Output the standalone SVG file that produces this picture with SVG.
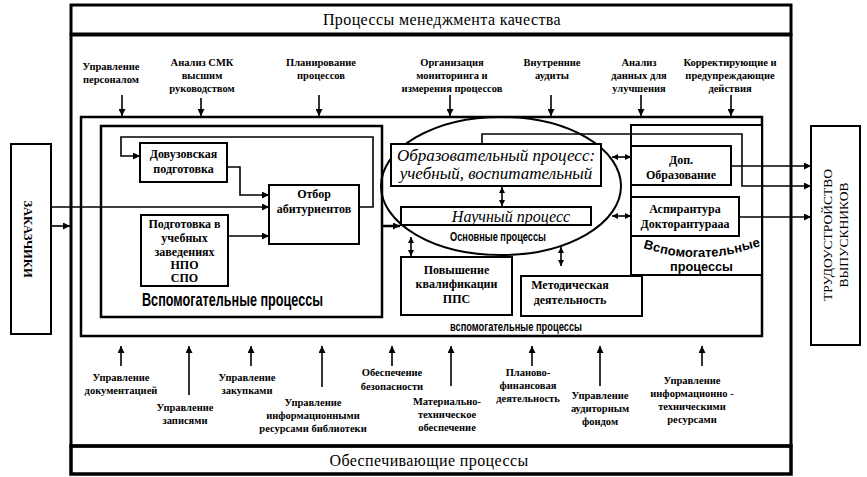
<svg xmlns="http://www.w3.org/2000/svg" width="867" height="477" viewBox="0 0 867 477">
<style>
  .frame{fill:none;stroke:#000;stroke-width:3}
  .box{fill:#fff;stroke:#000;stroke-width:2}
  .ln{fill:none;stroke:#000;stroke-width:1.6}
  .lbl{font-family:"Liberation Serif","Times New Roman",serif;font-weight:bold;font-size:10.5px;text-anchor:middle;fill:#000}
  .bt{font-family:"Liberation Serif","Times New Roman",serif;font-weight:bold;font-size:12px;text-anchor:middle;fill:#000}
  .it{font-family:"Liberation Serif","Times New Roman",serif;font-style:italic;font-size:17px;text-anchor:middle;fill:#000}
  .ttl{font-family:"Liberation Serif","Times New Roman",serif;font-size:16px;text-anchor:middle;fill:#000;letter-spacing:0.4px}
  .wa{font-family:"Liberation Sans",Arial,sans-serif;font-weight:bold;fill:#000}
</style>
<defs>
  <marker id="ah" viewBox="0 0 10 10" refX="10" refY="5" markerWidth="8" markerHeight="7" markerUnits="userSpaceOnUse" orient="auto-start-reverse">
    <path d="M0,0 L10,5 L0,10 z" fill="#000"/>
  </marker>
  <marker id="ahs" viewBox="0 0 10 10" refX="10" refY="5" markerWidth="7" markerHeight="6" markerUnits="userSpaceOnUse" orient="auto-start-reverse">
    <path d="M0,0 L10,5 L0,10 z" fill="#000"/>
  </marker>
</defs>
<rect width="867" height="477" fill="#fff"/>

<g id="frames">
  <rect class="frame" x="71" y="5" width="720" height="29"/>
  <rect class="frame" x="71" y="35" width="720" height="411"/>
  <rect x="71" y="446" width="720" height="28" fill="none" stroke="#000" stroke-width="3.5"/>
  <text class="ttl" x="442" y="25">Процессы менеджмента качества</text>
  <text class="ttl" x="429" y="466">Обеспечивающие процессы</text>
  <rect class="frame" x="81" y="117" width="681" height="219" style="stroke-width:2.5"/>
</g>

<g id="zakazchiki">
  <rect class="box" x="11" y="144" width="40" height="190"/>
  <text class="bt" transform="translate(28,239) rotate(90)" style="font-size:12.5px" dy="4">ЗАКАЗЧИКИ</text>
</g>

<g id="trudoustroystvo">
  <rect class="box" x="811" y="126" width="49" height="219"/>
  <text transform="translate(835,235) rotate(-90)" style="font-family:'Liberation Serif','Times New Roman',serif;font-size:13.5px;text-anchor:middle">
    <tspan x="0" y="-3">ТРУДОУСТРОЙСТВО</tspan><tspan x="0" y="13">ВЫПУСКНИКОВ</tspan>
  </text>
</g>

<g id="left-aux">
  <rect class="box" x="101" y="126" width="281" height="191" style="stroke-width:2.5"/>
  <text class="wa" x="142" y="306" style="font-size:18.5px" textLength="181" lengthAdjust="spacingAndGlyphs">Вспомогательные  процессы</text>
</g>
<g id="dovuz">
  <rect class="box" x="140" y="143" width="87" height="39"/>
  <text class="bt" x="183.5" y="158">Довузовская</text>
  <text class="bt" x="183.5" y="173">подготовка</text>
</g>
<g id="otbor">
  <rect class="box" x="269" y="185" width="90" height="59"/>
  <text class="bt" x="314" y="198">Отбор</text>
  <text class="bt" x="314" y="213">абитуриентов</text>
</g>
<g id="podgotovka">
  <rect class="box" x="141" y="215" width="87" height="71"/>
  <text class="bt" x="184.5" y="228">Подготовка в</text>
  <text class="bt" x="184.5" y="242">учебных</text>
  <text class="bt" x="184.5" y="256">заведениях</text>
  <text class="bt" x="184.5" y="269">НПО</text>
  <text class="bt" x="184.5" y="282">СПО</text>
</g>

<g id="main-processes">
  <ellipse cx="501" cy="186" rx="120" ry="69" fill="none" stroke="#000" stroke-width="2"/>
  <text class="wa" x="450" y="241" style="font-size:13.5px" textLength="96" lengthAdjust="spacingAndGlyphs">Основные процессы</text>
</g>
<g id="obraz">
  <rect class="box" x="391" y="144" width="210" height="42"/>
  <text class="it" x="496" y="161">Образовательный процесс:</text>
  <text class="it" x="496" y="179">учебный, воспитательный</text>
</g>
<g id="nauch">
  <rect class="box" x="401" y="207" width="190" height="18"/>
  <text class="it" x="511" y="222" style="font-size:16px">Научный  процесс</text>
</g>
<g id="povysh">
  <rect class="box" x="401" y="257" width="111" height="58"/>
  <text class="bt" x="456.5" y="274">Повышение</text>
  <text class="bt" x="456.5" y="288">квалификации</text>
  <text class="bt" x="456.5" y="303">ППС</text>
</g>
<g id="metod">
  <rect class="box" x="521" y="276" width="121" height="40"/>
  <text class="bt" x="570" y="289">Методическая</text>
  <text class="bt" x="570" y="304">деятельность</text>
</g>
<text class="wa" x="450" y="331" style="font-size:13.5px" textLength="132" lengthAdjust="spacingAndGlyphs">вспомогательные процессы</text>

<g id="right-aux">
  <rect class="box" x="631" y="125" width="131" height="150"/>
  <text class="wa" x="643" style="font-size:13px" textLength="118" lengthAdjust="spacingAndGlyphs" y="248 250.8 253 254.7 256 256.7 257 257 257 256.7 256 254.7 253 250.8 248" rotate="16 13.5 11 8.5 6 3.5 1 0 -1 -3.5 -6 -8.5 -11 -13.5 -16">Вспомогательные</text>
  <text class="wa" x="670" y="271" style="font-size:13px" textLength="63" lengthAdjust="spacingAndGlyphs">процессы</text>
</g>
<g id="dop">
  <rect class="box" x="631" y="146" width="100" height="39"/>
  <text class="bt" x="681" y="164">Доп.</text>
  <text class="bt" x="681" y="179">Образование</text>
</g>
<g id="aspir">
  <rect class="box" x="631" y="197" width="108" height="39"/>
  <text class="bt" x="685" y="213">Аспирантура</text>
  <text class="bt" x="685" y="228">Докторантурааа</text>
</g>

<g id="labels-top">
  <text class="lbl" x="111" y="70">Управление</text>
  <text class="lbl" x="111" y="83">персоналом</text>
  <text class="lbl" x="202" y="66">Анализ СМК</text>
  <text class="lbl" x="202" y="79">высшим</text>
  <text class="lbl" x="202" y="92">руководством</text>
  <text class="lbl" x="321" y="66">Планирование</text>
  <text class="lbl" x="321" y="79">процессов</text>
  <text class="lbl" x="452" y="66">Организация</text>
  <text class="lbl" x="452" y="79">мониторинга и</text>
  <text class="lbl" x="452" y="92">измерения процессов</text>
  <text class="lbl" x="552" y="66">Внутренние</text>
  <text class="lbl" x="552" y="79">аудиты</text>
  <text class="lbl" x="639" y="66">Анализ</text>
  <text class="lbl" x="639" y="79">данных для</text>
  <text class="lbl" x="639" y="92">улучшения</text>
  <text class="lbl" x="730" y="66">Корректирующие и</text>
  <text class="lbl" x="730" y="79">предупреждающие</text>
  <text class="lbl" x="730" y="92">действия</text>
</g>

<g id="labels-bottom">
  <text class="lbl" x="121" y="381">Управление</text>
  <text class="lbl" x="121" y="394">документацией</text>
  <text class="lbl" x="185" y="411">Управление</text>
  <text class="lbl" x="185" y="424">записями</text>
  <text class="lbl" x="247" y="381">Управление</text>
  <text class="lbl" x="247" y="394">закупками</text>
  <text class="lbl" x="313" y="406">Управление</text>
  <text class="lbl" x="313" y="419">информационными</text>
  <text class="lbl" x="313" y="432">ресурсами библиотеки</text>
  <text class="lbl" x="392" y="376">Обеспечение</text>
  <text class="lbl" x="392" y="390">безопасности</text>
  <text class="lbl" x="447" y="405">Материально-</text>
  <text class="lbl" x="447" y="418">техническое</text>
  <text class="lbl" x="447" y="431">обеспечение</text>
  <text class="lbl" x="528" y="376">Планово-</text>
  <text class="lbl" x="528" y="389">финансовая</text>
  <text class="lbl" x="528" y="402">деятельность</text>
  <text class="lbl" x="600" y="399">Управление</text>
  <text class="lbl" x="600" y="412">аудиторным</text>
  <text class="lbl" x="600" y="425">фондом</text>
  <text class="lbl" x="692" y="384">Управление</text>
  <text class="lbl" x="692" y="397">информационно -</text>
  <text class="lbl" x="692" y="410">техническими</text>
  <text class="lbl" x="692" y="423">ресурсами</text>
</g>

<g id="connectors">
  <g class="ln" marker-end="url(#ah)">
    <line x1="122" y1="95" x2="122" y2="116"/>
    <line x1="201" y1="98" x2="201" y2="116"/>
    <line x1="319" y1="95" x2="319" y2="116"/>
    <line x1="450" y1="95" x2="450" y2="116"/>
    <line x1="551" y1="95" x2="551" y2="116"/>
    <line x1="641" y1="95" x2="641" y2="116"/>
    <line x1="731" y1="95" x2="731" y2="116"/>

    <line x1="121" y1="366" x2="121" y2="346"/>
    <line x1="189" y1="395" x2="189" y2="346"/>
    <line x1="251" y1="366" x2="251" y2="346"/>
    <line x1="322" y1="387" x2="322" y2="346"/>
    <line x1="392" y1="366" x2="392" y2="346"/>
    <line x1="451" y1="386" x2="451" y2="346"/>
    <line x1="532" y1="366" x2="532" y2="346"/>
    <line x1="600" y1="386" x2="600" y2="346"/>
    <line x1="702" y1="366" x2="702" y2="346"/>

    <line x1="51" y1="207" x2="269" y2="207"/>
    <line x1="51" y1="226" x2="70" y2="226"/>
    <line x1="382" y1="226" x2="400" y2="226" style="stroke-width:2.5"/>
    <polyline points="359,207 373,207 373,137 121,137 121,156 140,156"/>
    <polyline points="227,167 240,167 240,195 269,195"/>
    <line x1="228" y1="236" x2="269" y2="236"/>
    <polyline points="482,144 482,134 742,134 742,186 811,186"/>
    <line x1="731" y1="166" x2="811" y2="166"/>
    <line x1="739" y1="217" x2="811" y2="217"/>
  </g>
  <g class="ln" marker-start="url(#ahs)" marker-end="url(#ahs)">
    <line x1="502" y1="187" x2="502" y2="206"/>
    <line x1="411" y1="237" x2="411" y2="256"/>
    <line x1="561" y1="247" x2="561" y2="266"/>
    <line x1="612" y1="157" x2="631" y2="157"/>
    <line x1="612" y1="216" x2="631" y2="216"/>
  </g>
</g>
</svg>
